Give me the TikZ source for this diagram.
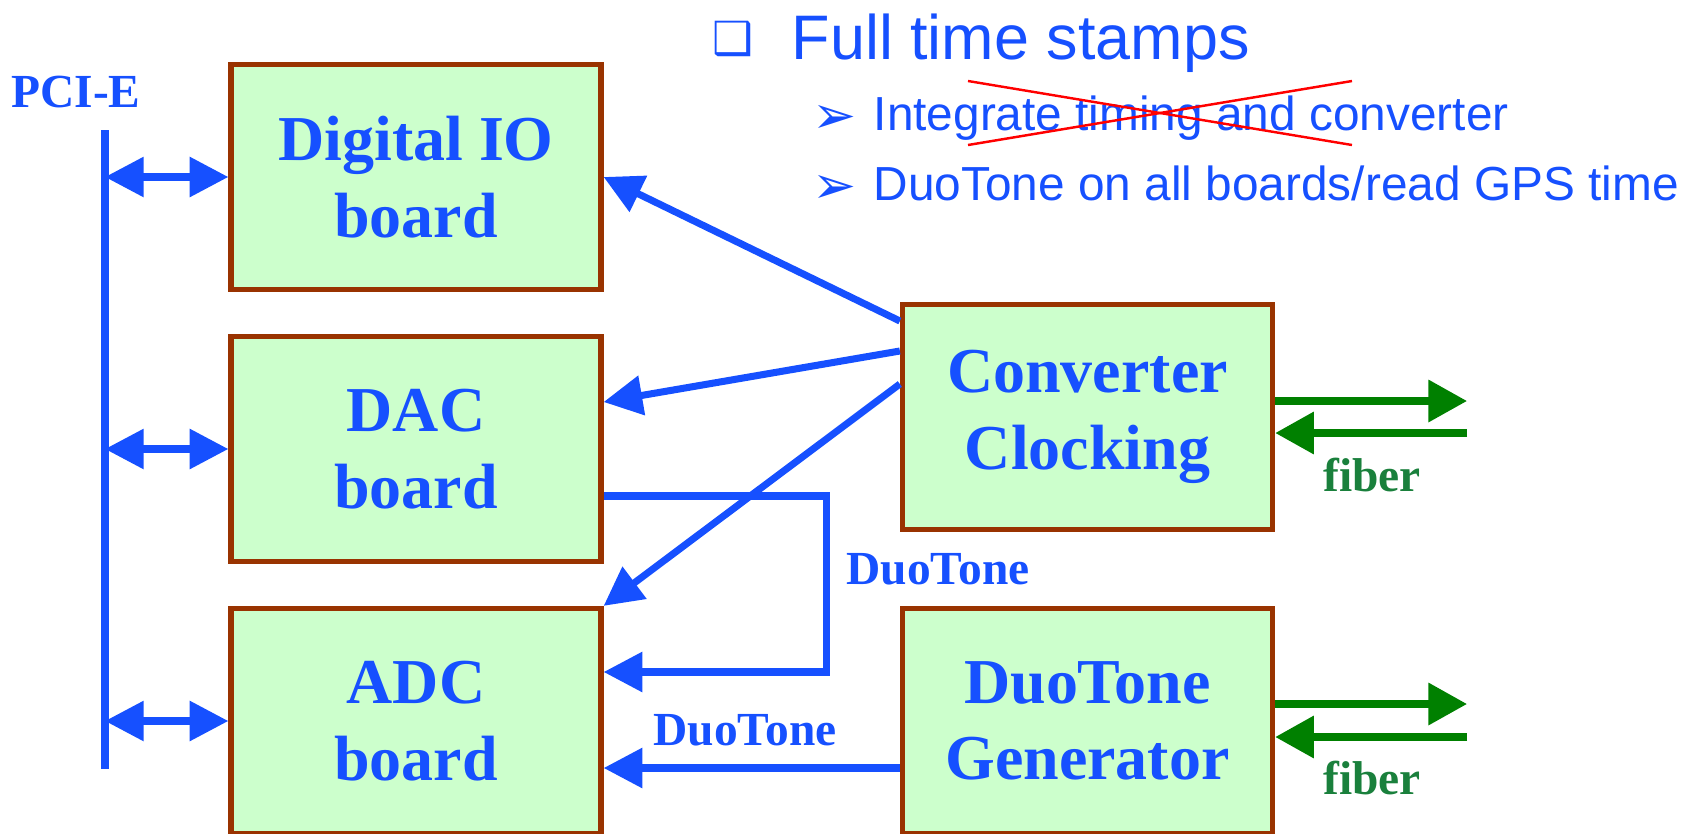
\documentclass[tikz,border=0pt]{standalone}
\usepackage{fontspec}
\setmainfont{Liberation Serif}
\newfontfamily\headfont{Liberation Sans}
\newfontfamily\dingfont{DejaVu Sans}
\usetikzlibrary{arrows.meta,calc}
\usepackage{xcolor}
\definecolor{sigblue}{RGB}{22,80,255}
\definecolor{boardedge}{RGB}{153,51,0}
\definecolor{boardfill}{RGB}{204,255,204}
\definecolor{fibergreen}{RGB}{0,128,0}
\definecolor{fibertext}{RGB}{26,128,60}

\begin{document}
\begin{tikzpicture}[
    board/.style={rectangle, draw=boardedge, line width=1.5pt, fill=boardfill,
                  minimum width=3.7cm, minimum height=2.25cm, align=center,
                  text=sigblue, font=\fontsize{18.2}{21.8}\selectfont\bfseries},
    sigtag/.style={font=\fontsize{13.5}{15}\selectfont\bfseries, text=sigblue},
    fibertag/.style={font=\fontsize{13.5}{15}\selectfont\bfseries, text=fibertext},
    sig/.style={-{Triangle[length=11pt,width=11pt]}, line width=2pt, draw=sigblue},
    duplex/.style={{Triangle[length=11pt,width=11pt]}-{Triangle[length=11pt,width=11pt]},
                   line width=2pt, draw=sigblue},
    fiber/.style={-{Triangle[length=11pt,width=11.5pt]}, line width=2.3pt, draw=fibergreen},
    item/.style={anchor=base west, inner sep=0pt, text=sigblue,
                 font=\headfont\fontsize{13.6}{16}\selectfont},
    tick/.style={text=sigblue, inner sep=0pt, font=\dingfont\fontsize{15}{15}\selectfont},
    strike/.style={draw=red, line width=0.7pt}
]
\useasboundingbox (0,0) rectangle (16.94,8.33);

% Notes
\node[tick, font=\dingfont\fontsize{13}{13}\selectfont] (headbox) at (7.33,7.94) {❑};
\node[item, font=\headfont\fontsize{17.9}{20}\selectfont] (head) at (7.91,7.74) {Full time stamps};
\node[tick] (tick1) at (8.35,7.14) {➢};
\node[item] (note1) at (8.73,7.03) {Integrate timing and converter};
\node[tick] (tick2) at (8.35,6.44) {➢};
\node[item] (note2) at (8.73,6.33) {DuoTone on all boards/read GPS time};

% crossed-out note
\coordinate (xa) at (9.68,7.52);
\coordinate (xb) at (13.52,6.88);
\coordinate (xc) at (9.68,6.88);
\coordinate (xd) at (13.52,7.52);
\draw[strike] (xa) -- (xb);
\draw[strike] (xc) -- (xd);

% PCI-E bus
\node[sigtag] (pcie) at (0.76,7.41) {PCI-E};
\coordinate (bustop) at (1.05,7.03);
\coordinate (busbot) at (1.05,0.64);
\draw[draw=sigblue, line width=2.2pt] (bustop) -- (busbot);

% Boards
\node[board] (dio) at (4.16,6.56) {Digital IO\\board};
\node[board] (dac) at (4.16,3.84) {DAC\\board};
\node[board] (adc) at (4.16,1.12) {ADC\\board};
\node[board] (conv) at (10.875,4.16) {Converter\\Clocking};
\node[board] (gen) at (10.875,1.12) {DuoTone\\Generator};

% Bus to boards
\draw[duplex] (bustop |- dio.west) -- (dio.west);
\draw[duplex] (bustop |- dac.west) -- (dac.west);
\draw[duplex] (bustop |- adc.west) -- (adc.west);

% Clock distribution
\draw[sig] ([yshift=0.96cm]conv.west) -- (dio.east);
\draw[sig] ([yshift=0.66cm]conv.west) -- ([yshift=0.47cm]dac.east);
\draw[sig] ([yshift=0.33cm]conv.west) -- (adc.north east);

% DuoTone paths
\draw[sig] ([yshift=-0.47cm]dac.east) -- ++(2.23,0) |- ([yshift=0.49cm]adc.east);
\node[sigtag] (dtloop) at (9.38,2.64) {DuoTone};
\draw[sig] ([yshift=-0.47cm]gen.west) -- ([yshift=-0.47cm]adc.east);
\node[sigtag] (dtgen) at (7.45,1.03) {DuoTone};

% Fiber links
\coordinate (convout) at ($(conv.east)+(1.92,0.16)$);
\coordinate (convin) at ($(conv.east)+(1.92,-0.16)$);
\draw[fiber] ([yshift=0.16cm]conv.east) -- (convout);
\draw[fiber] (convin) -- ([yshift=-0.16cm]conv.east);
\node[fibertag] (fib1) at (13.72,3.58) {fiber};

\coordinate (genout) at ($(gen.east)+(1.92,0.17)$);
\coordinate (genin) at ($(gen.east)+(1.92,-0.16)$);
\draw[fiber] ([yshift=0.17cm]gen.east) -- (genout);
\draw[fiber] (genin) -- ([yshift=-0.16cm]gen.east);
\node[fibertag] (fib2) at (13.72,0.55) {fiber};

\end{tikzpicture}
\end{document}
